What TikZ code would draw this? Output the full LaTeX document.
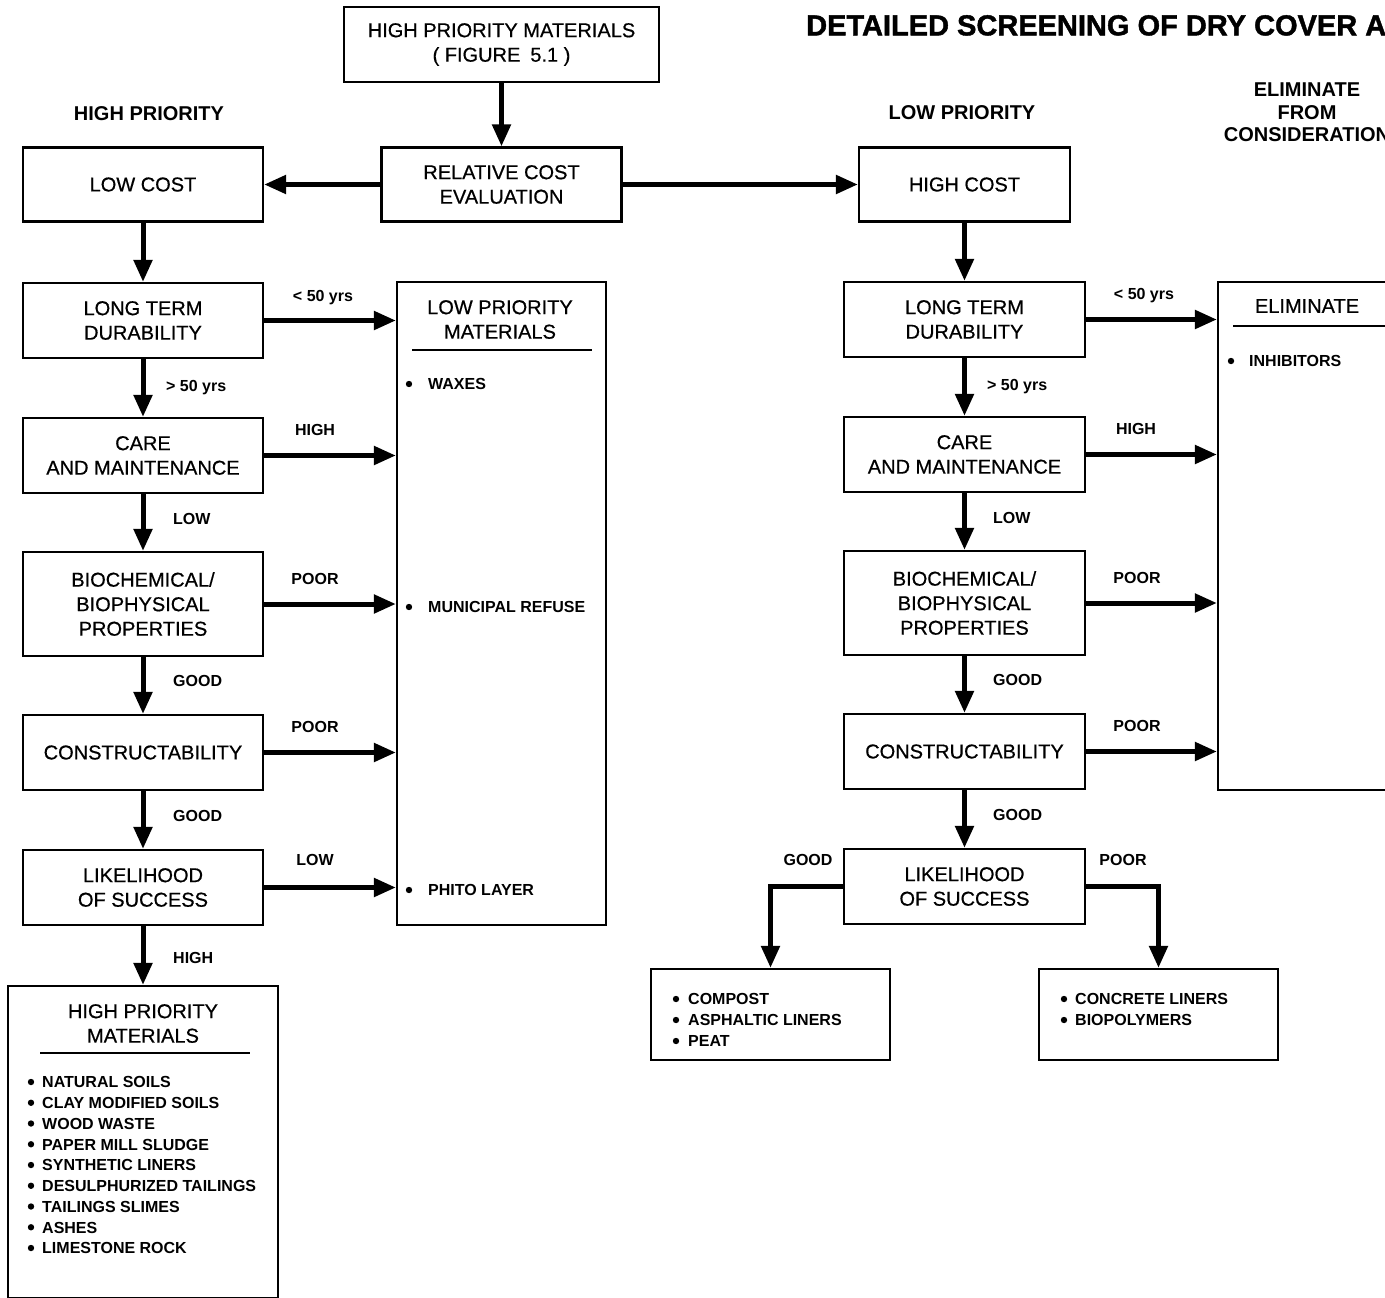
\documentclass[tikz,border=0pt]{standalone}
\usepackage{fontspec}
\setmainfont{Liberation Sans}
\newfontfamily\medfam[FakeBold=0.6]{Liberation Sans}
\newfontfamily\heavyfam[FakeBold=1.4]{Liberation Sans}
\usetikzlibrary{arrows.meta}
\newcommand\boxfont{\medfam\fontsize{20}{24.5}\selectfont}
\newcommand\lblfont{\fontsize{16}{19}\selectfont\bfseries}
\newcommand\hdfont{\fontsize{20}{22.5}\selectfont\bfseries}
\newcommand\dtitlefont{\heavyfam\fontsize{29}{30}\selectfont\bfseries}
\begin{document}
\begin{tikzpicture}[x=1pt,y=-1pt,
  box/.style={draw, line width=2.2pt, inner sep=0pt, align=center, font=\boxfont},
  boxtext/.style={inner sep=0pt, align=center, font=\boxfont},
  arr/.style={line width=5pt, -{Triangle[length=22pt,width=18pt]}},
  lbl/.style={font=\lblfont, inner sep=0pt, text height=11.5pt, text depth=0pt},
  hd/.style={font=\hdfont, inner sep=0pt, align=center},
  uline/.style={line width=1.5pt},
  bul/.style={fill=black}]
\clip (0,0) rectangle (1385,1298);
\path[use as bounding box] (0,0) rectangle (1385,1298);
\fill[white] (0,0) rectangle (1385,1298);

% title and column headings
\node[anchor=west, font=\dtitlefont, inner sep=0pt, text height=20.8pt, text depth=0pt] (ttl) at (806,25) {DETAILED SCREENING OF DRY COVER A};
\node[hd] (hdH) at (149,114) {HIGH PRIORITY};
\node[hd] (hdL) at (962,113) {LOW PRIORITY};
\node[hd] (hdE) at (1307,112.5) {ELIMINATE\\FROM\\CONSIDERATION};

% top of the chart
\node[box, minimum width=315pt, minimum height=75pt] (top) at (501.5,44.5) {HIGH PRIORITY MATERIALS\\( FIGURE\enspace 5.1 )};
\node[box, minimum width=240pt, minimum height=74pt] (rel) at (501.5,184.5) {RELATIVE COST\\EVALUATION};
\node[box, minimum width=240pt, minimum height=74pt] (lcost) at (143,184.5) {LOW COST};
\node[box, minimum width=211pt, minimum height=74pt] (hcost) at (964.5,184.5) {HIGH COST};

% left column (high priority)
\node[box, minimum width=240pt, minimum height=75pt] (ltdL) at (143,320.5) {LONG TERM\\DURABILITY};
\node[box, minimum width=240pt, minimum height=75pt] (camL) at (143,455.5) {CARE\\AND MAINTENANCE};
\node[box, minimum width=240pt, minimum height=104pt] (bioL) at (143,604) {BIOCHEMICAL/\\BIOPHYSICAL\\PROPERTIES};
\node[box, minimum width=240pt, minimum height=75pt] (conL) at (143,752.5) {CONSTRUCTABILITY};
\node[box, minimum width=240pt, minimum height=75pt] (losL) at (143,887.5) {LIKELIHOOD\\OF SUCCESS};

% right column (low priority)
\node[box, minimum width=241pt, minimum height=75pt] (ltdR) at (964.5,319.5) {LONG TERM\\DURABILITY};
\node[box, minimum width=241pt, minimum height=75pt] (camR) at (964.5,454.5) {CARE\\AND MAINTENANCE};
\node[box, minimum width=241pt, minimum height=104pt] (bioR) at (964.5,603) {BIOCHEMICAL/\\BIOPHYSICAL\\PROPERTIES};
\node[box, minimum width=241pt, minimum height=75pt] (conR) at (964.5,751.5) {CONSTRUCTABILITY};
\node[box, minimum width=241pt, minimum height=75pt] (losR) at (964.5,886.5) {LIKELIHOOD\\OF SUCCESS};

% result boxes
\node[box, minimum width=209pt, minimum height=643pt] (lpm) at (501.5,603.5) {};
\node[box, minimum width=182pt, minimum height=508pt] (elim) at (1309,536) {};
\node[box, minimum width=270pt, minimum height=312pt] (hpl) at (143,1142) {};
\node[box, minimum width=239pt, minimum height=91pt] (cbL) at (770.5,1014.5) {};
\node[box, minimum width=239pt, minimum height=91pt] (cbR) at (1158.5,1014.5) {};

% low priority materials
\node[boxtext] (lpmh) at (500,319.5) {LOW PRIORITY\\MATERIALS};
\draw[uline] (412,350) -- (592,350);
\fill[bul] (409,384) circle (3.2pt);
\node[lbl, anchor=west] (lp1) at (428,384) {WAXES};
\fill[bul] (409,607) circle (3.2pt);
\node[lbl, anchor=west] (lp2) at (428,607) {MUNICIPAL REFUSE};
\fill[bul] (409,890) circle (3.2pt);
\node[lbl, anchor=west] (lp3) at (428,890) {PHITO LAYER};

% eliminated materials
\node[boxtext] (elimh) at (1307,306) {ELIMINATE};
\draw[uline] (1233,326) -- (1400,326);
\fill[bul] (1231,361) circle (3.2pt);
\node[lbl, anchor=west] (el1) at (1249,361) {INHIBITORS};

% high priority materials
\node[boxtext] (hplh) at (143,1023.5) {HIGH PRIORITY\\MATERIALS};
\draw[uline] (40,1053) -- (250,1053);
\foreach \t [count=\i from 0] in {NATURAL SOILS, CLAY MODIFIED SOILS, WOOD WASTE, PAPER MILL SLUDGE, SYNTHETIC LINERS, DESULPHURIZED TAILINGS, TAILINGS SLIMES, ASHES, LIMESTONE ROCK} {
  \fill[bul] (31,{1082+20.75*\i}) circle (3.2pt);
  \node[lbl, anchor=west] (hp\i) at (42,{1082+20.75*\i}) {\t};
}

% outcomes of the likelihood test
\foreach \t [count=\i from 0] in {COMPOST, ASPHALTIC LINERS, PEAT} {
  \fill[bul] (676,{999+21*\i}) circle (3.2pt);
  \node[lbl, anchor=west] (cl\i) at (688,{999+21*\i}) {\t};
}
\foreach \t [count=\i from 0] in {CONCRETE LINERS, BIOPOLYMERS} {
  \fill[bul] (1064,{999+21*\i}) circle (3.2pt);
  \node[lbl, anchor=west] (cr\i) at (1075,{999+21*\i}) {\t};
}

% connectors
\draw[arr] (top.south) -- (rel.north);
\draw[arr] (rel.west) -- (lcost.east);
\draw[arr] (rel.east) -- (hcost.west);

\draw[arr] (lcost.south) -- (ltdL.north);
\draw[arr] (ltdL.south) -- (camL.north);
\draw[arr] (camL.south) -- (bioL.north);
\draw[arr] (bioL.south) -- (conL.north);
\draw[arr] (conL.south) -- (losL.north);
\draw[arr] (losL.south) -- (hpl.north);
\draw[arr] (ltdL.east) -- (ltdL.east -| lpm.west);
\draw[arr] (camL.east) -- (camL.east -| lpm.west);
\draw[arr] (bioL.east) -- (bioL.east -| lpm.west);
\draw[arr] (conL.east) -- (conL.east -| lpm.west);
\draw[arr] (losL.east) -- (losL.east -| lpm.west);

\draw[arr] (hcost.south) -- (ltdR.north);
\draw[arr] (ltdR.south) -- (camR.north);
\draw[arr] (camR.south) -- (bioR.north);
\draw[arr] (bioR.south) -- (conR.north);
\draw[arr] (conR.south) -- (losR.north);
\draw[arr] (ltdR.east) -- (ltdR.east -| elim.west);
\draw[arr] (camR.east) -- (camR.east -| elim.west);
\draw[arr] (bioR.east) -- (bioR.east -| elim.west);
\draw[arr] (conR.east) -- (conR.east -| elim.west);
\draw[arr] (losR.west) -| (cbL.north);
\draw[arr] (losR.east) -| (cbR.north);

% connector labels, left column
\node[lbl, anchor=west] (a1) at (166,386) {> 50 yrs};
\node[lbl, anchor=west] (a2) at (173,519) {LOW};
\node[lbl, anchor=west] (a3) at (173,681) {GOOD};
\node[lbl, anchor=west] (a4) at (173,816) {GOOD};
\node[lbl, anchor=west] (a5) at (173,958) {HIGH};
\node[lbl] (b1) at (323,296) {< 50 yrs};
\node[lbl] (b2) at (315,430) {HIGH};
\node[lbl] (b3) at (315,579) {POOR};
\node[lbl] (b4) at (315,727) {POOR};
\node[lbl] (b5) at (315,860) {LOW};

% connector labels, right column
\node[lbl, anchor=west] (c1) at (987,385) {> 50 yrs};
\node[lbl, anchor=west] (c2) at (993,518) {LOW};
\node[lbl, anchor=west] (c3) at (993,680) {GOOD};
\node[lbl, anchor=west] (c4) at (993,815) {GOOD};
\node[lbl] (d1) at (1144,294) {< 50 yrs};
\node[lbl] (d2) at (1136,429) {HIGH};
\node[lbl] (d3) at (1137,578) {POOR};
\node[lbl] (d4) at (1137,726) {POOR};
\node[lbl] (e1) at (808,860) {GOOD};
\node[lbl] (e2) at (1123,860) {POOR};
\end{tikzpicture}
\end{document}
